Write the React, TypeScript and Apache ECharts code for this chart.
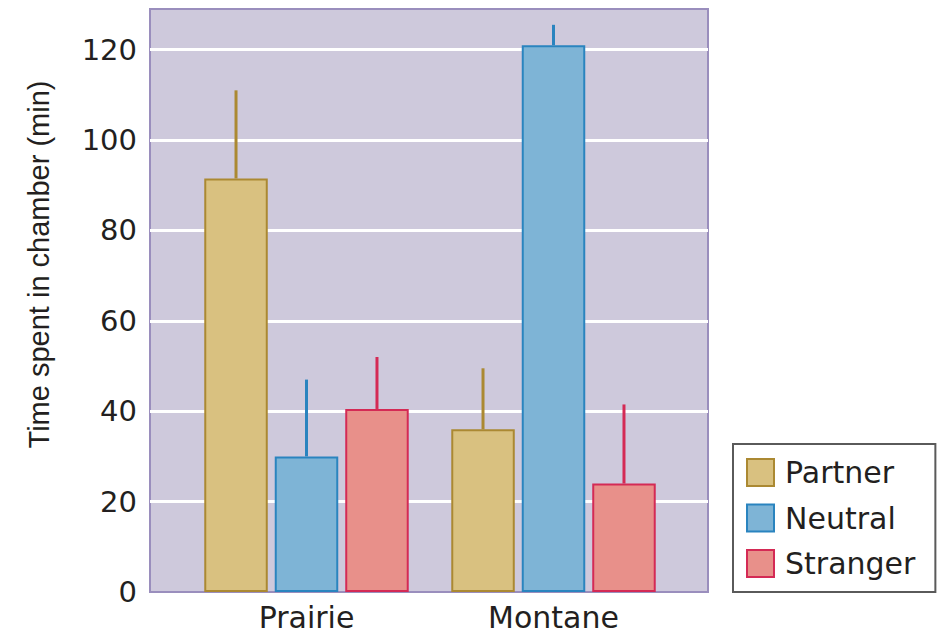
import React, { useEffect, useRef } from "react";
import * as echarts from "echarts";

// Time spent in chamber (min) by vole population and stimulus animal
const categories = ["Prairie", "Montane"];
const groups = ["Partner", "Neutral", "Stranger"];

const partnerMean = [91.5, 36];
const partnerUpper = [111, 49.5];
const neutralMean = [30, 121];
const neutralUpper = [47, 125.5];
const strangerMean = [40.5, 24];
const strangerUpper = [52, 41.5];

const yMin = 0;
const yMax = 129;
const yStep = 20;

const fills = ["#d9c180", "#7eb4d6", "#e8908a"];
const strokes = ["#ab8932", "#2a84bf", "#d42a55"];

const BAR_WIDTH = 63.5;
const BAR_GAP = 0.11;

const TEXT = "#231f20";
const SANS = "DejaVu Sans";

export default function App() {
  const ref = useRef<HTMLDivElement>(null);

  useEffect(() => {
    if (!ref.current) return;
    const chart = echarts.init(ref.current, undefined, { renderer: "svg" });

    const means = [partnerMean, neutralMean, strangerMean];
    const uppers = [partnerUpper, neutralUpper, strangerUpper];

    const barSeries = groups.map((g, i) => ({
      name: g,
      type: "bar",
      xAxisIndex: 1,
      yAxisIndex: 1,
      barWidth: BAR_WIDTH,
      barGap: `${BAR_GAP * 100}%`,
      z: 2,
      itemStyle: { color: fills[i], borderColor: strokes[i], borderWidth: 2 },
      data: means[i],
    }));

    // Upper error whiskers, one per bar, offset to sit over each bar's centre
    const errorSeries = groups.map((g, i) => ({
      name: g + " error",
      type: "custom",
      xAxisIndex: 1,
      yAxisIndex: 1,
      z: 3,
      data: categories.map((_, c) => [c, means[i][c], uppers[i][c]]),
      renderItem: (params: any, api: any) => {
        const offset = (i - 1) * BAR_WIDTH * (1 + BAR_GAP);
        const base = api.coord([api.value(0), api.value(1)]);
        const top = api.coord([api.value(0), api.value(2)]);
        return {
          type: "line",
          shape: { x1: base[0] + offset, y1: base[1], x2: top[0] + offset, y2: top[1] },
          style: { stroke: strokes[i], lineWidth: 3 },
        };
      },
    }));

    chart.setOption({
      animation: false,
      backgroundColor: "#ffffff",
      textStyle: { fontFamily: SANS, color: TEXT },
      grid: [
        {
          left: 150,
          right: 236,
          top: 9,
          bottom: 50,
          show: true,
          backgroundColor: "#cec9dc",
          borderColor: "#9a8ebd",
          borderWidth: 2,
        },
        { left: 183, right: 267, top: 9, bottom: 50 },
      ],
      xAxis: [
        { gridIndex: 0, type: "category", data: categories, show: false },
        {
          gridIndex: 1,
          type: "category",
          data: categories,
          axisLine: { show: false },
          axisTick: { show: false },
          axisLabel: { fontFamily: SANS, fontSize: 30, color: TEXT, margin: 10 },
        },
      ],
      yAxis: [
        {
          gridIndex: 0,
          type: "value",
          min: yMin,
          max: yMax,
          interval: yStep,
          axisLine: { show: false },
          axisTick: { show: false },
          axisLabel: {
            fontFamily: SANS,
            fontSize: 29,
            color: TEXT,
            margin: 13,
            showMaxLabel: false,
            formatter: (v: number) => (v % yStep === 0 ? String(v) : ""),
          },
          splitLine: {
            show: true,
            showMinLine: false,
            showMaxLine: false,
            lineStyle: { color: "#ffffff", width: 3 },
          },
          name: "Time spent in chamber (min)",
          nameLocation: "middle",
          nameGap: 97,
          nameTextStyle: {
            fontFamily: "Liberation Sans",
            fontSize: 29,
            color: TEXT,
            padding: [0, 0, 0, 72],
          },
        },
        { gridIndex: 1, type: "value", min: yMin, max: yMax, show: false },
      ],
      legend: {
        data: groups,
        orient: "vertical",
        left: 733,
        top: 444,
        icon: "rect",
        itemWidth: 27,
        itemHeight: 27,
        itemGap: 15.5,
        padding: [13.5, 20, 13.5, 13],
        backgroundColor: "#ffffff",
        borderColor: "#5a5a5a",
        borderWidth: 2,
        textStyle: { fontFamily: SANS, fontSize: 30, color: TEXT, padding: [0, 0, 0, 6] },
      },
      series: [...barSeries, ...errorSeries],
    });

    return () => chart.dispose();
  }, []);

  return (
    <div
      ref={ref}
      style={{ position: "fixed", left: 0, top: 0, width: 944, height: 642 }}
    />
  );
}
